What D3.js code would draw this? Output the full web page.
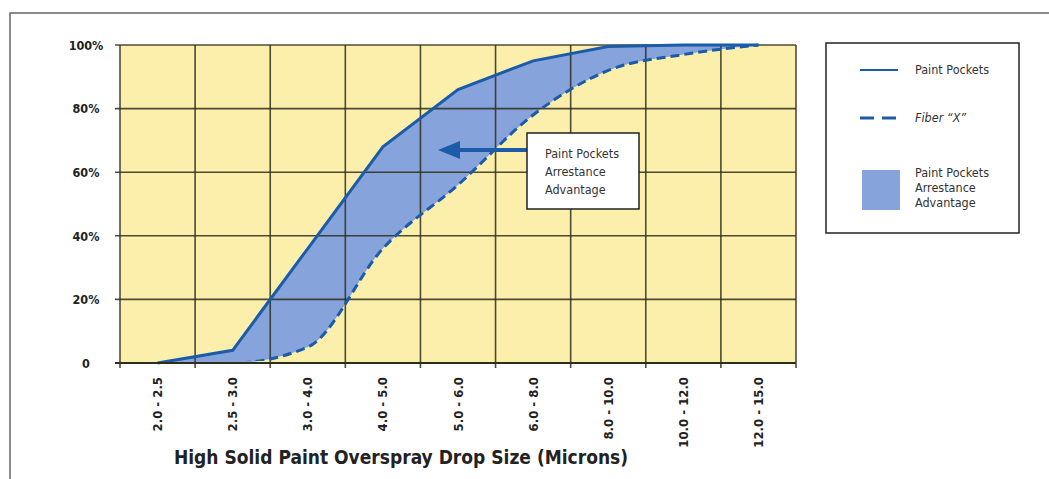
<!DOCTYPE html>
<html>
<head>
<meta charset="utf-8">
<script src="https://cdn.jsdelivr.net/npm/d3@7"></script>
<style>
  body { margin: 0; background: #fff; }
  svg { display: block; }
  .tick text { font-family: "DejaVu Sans Condensed", "DejaVu Sans", sans-serif; font-weight: bold; fill: #222; }
  .note { font-family: "DejaVu Sans Condensed", "DejaVu Sans", sans-serif; font-size: 12.5px; fill: #333; }
</style>
</head>
<body>
<script>
// drop size buckets along the x axis
var categories = ["2.0 - 2.5", "2.5 - 3.0", "3.0 - 4.0", "4.0 - 5.0", "5.0 - 6.0",
                  "6.0 - 8.0", "8.0 - 10.0", "10.0 - 12.0", "12.0 - 15.0"];
// cumulative arrestance (%)
var paintPockets = [0, 4, 36, 68, 86, 95, 99.5, 100, 100];
var fiberX = [0, 0, 5, 36, 56, 78, 92, 97, 100];
var yTicks = [0, 20, 40, 60, 80, 100];

var W = 1049, H = 479;
var blue = "#1c5ba8", fillBlue = "#86a3dc";

var svg = d3.select("body").append("svg")
    .attr("width", W)
    .attr("height", H);

// outer frame (top and left edges)
svg.append("path")
    .attr("d", "M10,479 V13 H1049")
    .attr("fill", "none")
    .attr("stroke", "#666")
    .attr("stroke-width", 1.5);

var x = d3.scaleBand().domain(categories).range([120, 796]).padding(0);
var y = d3.scaleLinear().domain([0, 100]).range([363, 45]);
function cx(d, i) { return x(categories[i]) + x.bandwidth() / 2; }
function cxRev(d, i) { return cx(d, categories.length - 1 - i); }

var solidLine = d3.line().x(cx).y(function (d) { return y(d); });
var dashLine = d3.line().curve(d3.curveMonotoneX).x(cx).y(function (d) { return y(d); });
var dashLineRev = d3.line().curve(d3.curveMonotoneX).x(cxRev).y(function (d) { return y(d); });

// keep the dashed curve off the base line
svg.append("clipPath")
    .attr("id", "above")
    .append("rect")
    .attr("x", 100).attr("y", 30)
    .attr("width", 720).attr("height", 331);

// plot background
svg.append("rect")
    .attr("x", 120).attr("y", 45)
    .attr("width", 676).attr("height", 318)
    .attr("fill", "#fcefab");

// advantage area between the two curves
var topPath = solidLine(paintPockets);
var bottomPath = dashLineRev(fiberX.slice().reverse());
svg.append("path")
    .attr("fill", fillBlue)
    .attr("d", topPath + "L" + bottomPath.substring(1) + "Z");

// grid
var edges = x.domain().map(function (c) { return x(c); }).concat([796]);
svg.append("g")
    .selectAll("line")
    .data(edges)
    .enter()
    .append("line")
    .attr("x1", function (d) { return d; })
    .attr("x2", function (d) { return d; })
    .attr("y1", 45)
    .attr("y2", 368)
    .attr("stroke", "#2e2e1c")
    .attr("stroke-opacity", 0.85)
    .attr("stroke-width", 1.6);
svg.append("g")
    .selectAll("line")
    .data(yTicks.slice(1))
    .enter()
    .append("line")
    .attr("x1", 115)
    .attr("x2", 796)
    .attr("y1", function (d) { return y(d); })
    .attr("y2", function (d) { return y(d); })
    .attr("stroke", "#2e2e1c")
    .attr("stroke-opacity", 0.85)
    .attr("stroke-width", 1.6);

// curves
svg.append("path")
    .attr("fill", "none")
    .attr("clip-path", "url(#above)")
    .attr("stroke", blue)
    .attr("stroke-width", 3)
    .attr("stroke-dasharray", "9,5")
    .attr("d", dashLine(fiberX));
svg.append("path")
    .attr("fill", "none")
    .attr("stroke", blue)
    .attr("stroke-width", 3)
    .attr("d", topPath);

// base line over the curves
svg.append("line")
    .attr("x1", 115).attr("x2", 796)
    .attr("y1", y(0)).attr("y2", y(0))
    .attr("stroke", "#2e2e1c")
    .attr("stroke-width", 2.2);

// axes
var yAxis = svg.append("g")
    .attr("transform", "translate(120,0)")
    .call(d3.axisLeft(y).tickValues(yTicks).tickSize(0)
        .tickFormat(function (d) { return d === 0 ? "0" : d + "%"; }));
yAxis.select(".domain").remove();
yAxis.selectAll("text")
    .style("font-size", "12.5px")
    .attr("text-anchor", "middle")
    .attr("x", -34)
    .attr("dy", "0.35em");

var xAxis = svg.append("g")
    .attr("transform", "translate(0,363)")
    .call(d3.axisBottom(x).tickSize(0));
xAxis.select(".domain").remove();
xAxis.selectAll("text")
    .style("font-size", "13px")
    .attr("transform", "rotate(-90)")
    .attr("text-anchor", "end")
    .attr("x", -14)
    .attr("y", 0)
    .attr("dy", "0.35em");

svg.append("text")
    .attr("x", 401)
    .attr("y", 464)
    .attr("text-anchor", "middle")
    .style("font-family", "'DejaVu Sans Condensed', 'DejaVu Sans', sans-serif")
    .style("font-weight", "bold")
    .style("font-size", "19px")
    .style("fill", "#222")
    .text("High Solid Paint Overspray Drop Size (Microns)");

// callout with arrow
svg.append("line")
    .attr("x1", 527).attr("x2", 456)
    .attr("y1", 150).attr("y2", 150)
    .attr("stroke", blue)
    .attr("stroke-width", 4);
svg.append("path")
    .attr("d", "M438,150 L460,141 L460,159 Z")
    .attr("fill", blue);
svg.append("rect")
    .attr("x", 527).attr("y", 133)
    .attr("width", 112).attr("height", 76)
    .attr("fill", "#fff")
    .attr("stroke", "#222")
    .attr("stroke-width", 1.5);
svg.append("text")
    .attr("class", "note")
    .selectAll("tspan")
    .data(["Paint Pockets", "Arrestance", "Advantage"])
    .enter()
    .append("tspan")
    .attr("x", 545)
    .attr("y", function (d, i) { return 158 + i * 18; })
    .text(function (d) { return d; });

// legend
svg.append("rect")
    .attr("x", 826).attr("y", 43)
    .attr("width", 193).attr("height", 190)
    .attr("fill", "#fff")
    .attr("stroke", "#222")
    .attr("stroke-width", 1.5);
svg.append("line")
    .attr("x1", 860).attr("x2", 898).attr("y1", 70).attr("y2", 70)
    .attr("stroke", blue).attr("stroke-width", 2);
svg.append("line")
    .attr("x1", 860).attr("x2", 898).attr("y1", 118).attr("y2", 118)
    .attr("stroke", blue).attr("stroke-width", 3)
    .attr("stroke-dasharray", "14,8");
svg.append("rect")
    .attr("x", 862).attr("y", 170)
    .attr("width", 38).attr("height", 40)
    .attr("fill", fillBlue);
svg.append("text")
    .attr("class", "note")
    .attr("x", 915).attr("y", 74)
    .text("Paint Pockets");
svg.append("text")
    .attr("class", "note")
    .attr("x", 915).attr("y", 122)
    .style("font-style", "italic")
    .text("Fiber \u201CX\u201D");
svg.append("text")
    .attr("class", "note")
    .selectAll("tspan")
    .data(["Paint Pockets", "Arrestance", "Advantage"])
    .enter()
    .append("tspan")
    .attr("x", 915)
    .attr("y", function (d, i) { return 177 + i * 15; })
    .text(function (d) { return d; });
</script>
</body>
</html>
